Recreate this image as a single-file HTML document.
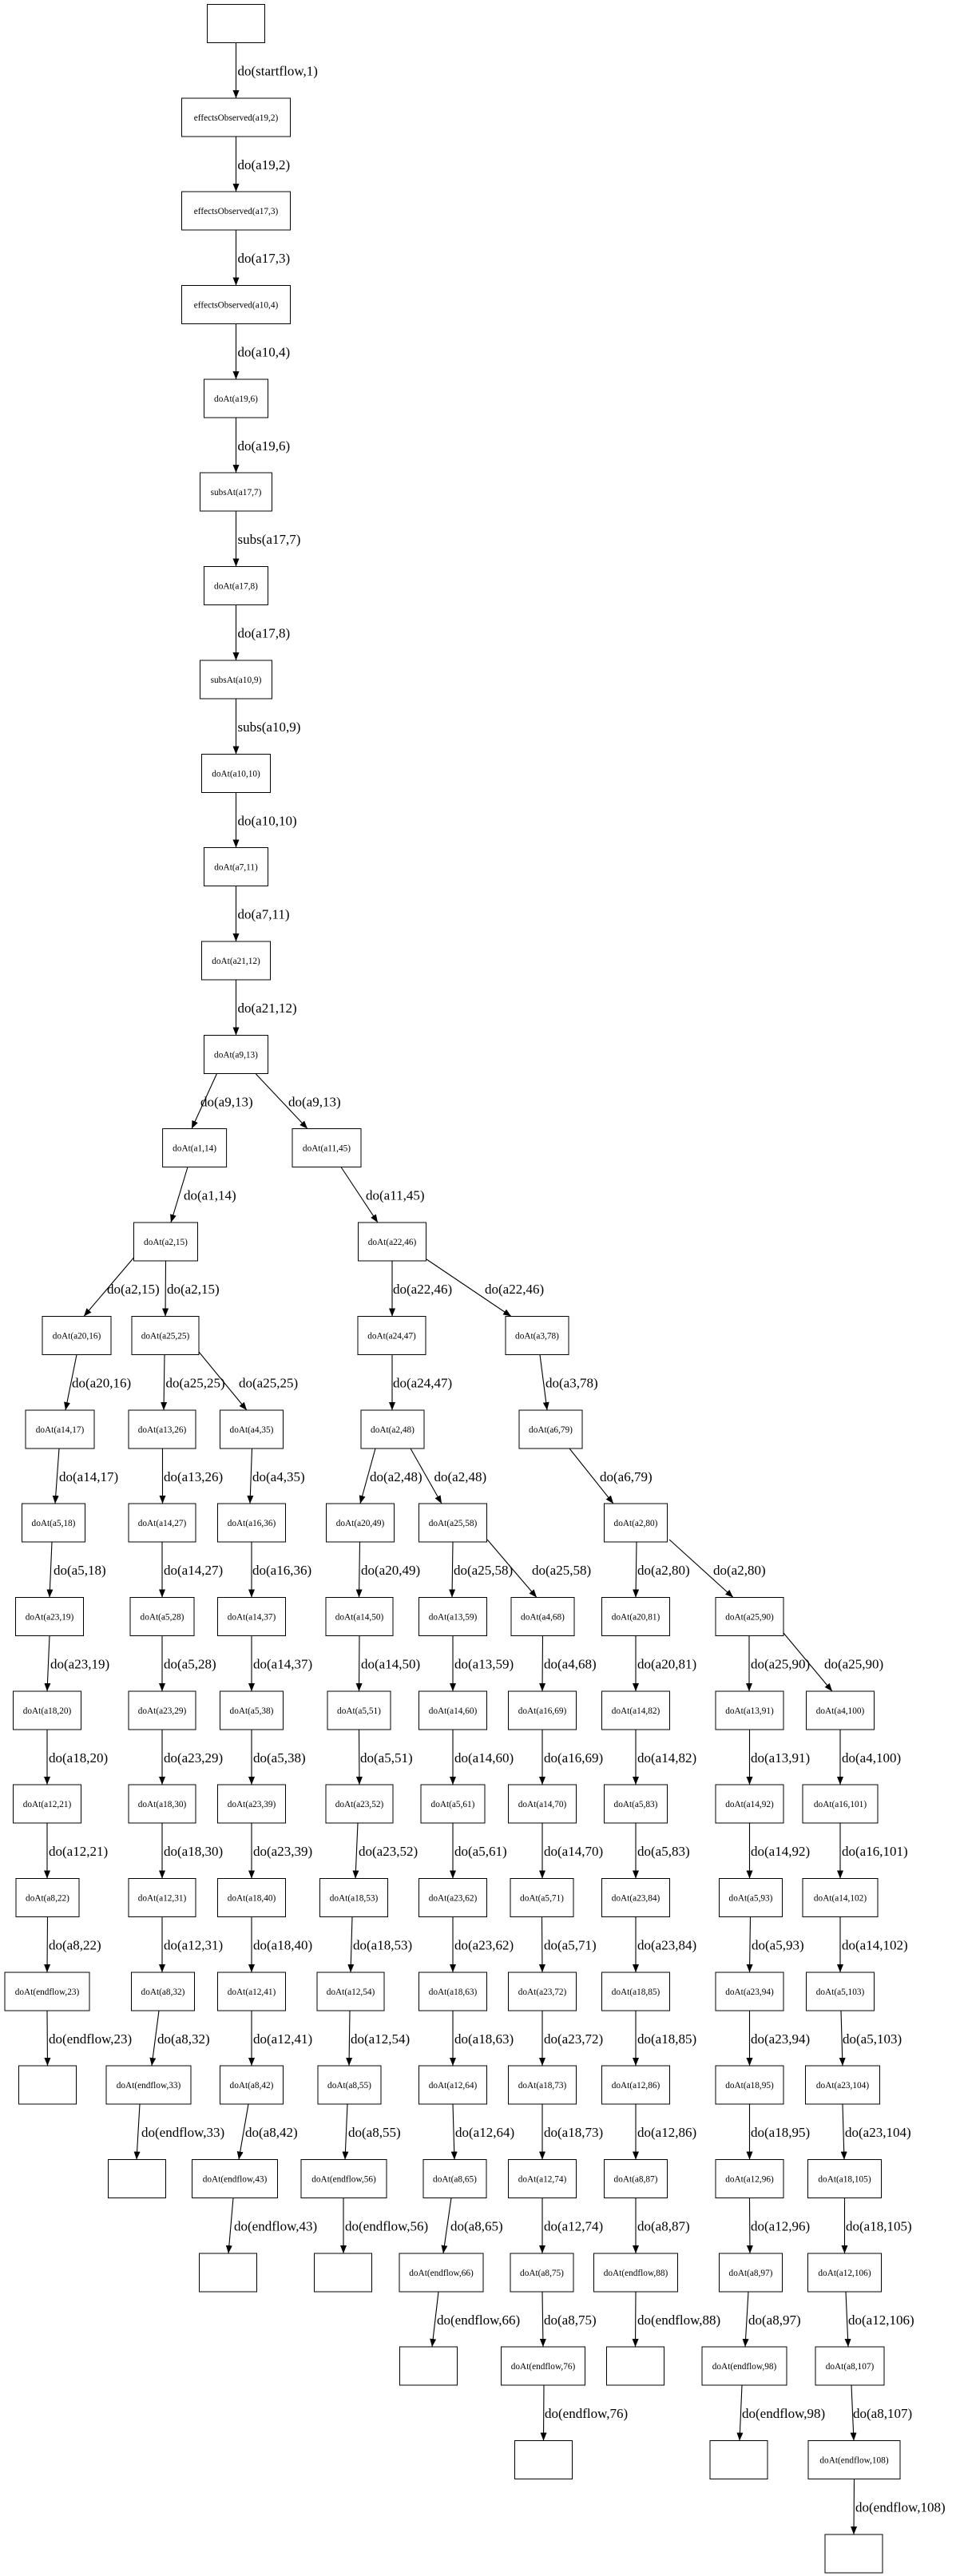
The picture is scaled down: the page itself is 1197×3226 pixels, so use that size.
<!DOCTYPE html>
<html><head><meta charset="utf-8">
<style>
html,body{margin:0;padding:0;background:#fff;}
svg{display:block;}
.n rect{fill:#fff;stroke:#000;stroke-width:1;}
.nt{font-family:"Liberation Serif",serif;font-size:11.3px;text-anchor:middle;fill:#000;}
.el{font-family:"Liberation Serif",serif;font-size:17px;fill:#000;}
.e{stroke:#000;stroke-width:1.1;fill:none;marker-end:url(#ah);}
</style></head><body>
<svg width="1197" height="3226" viewBox="0 0 1197 3226" xmlns="http://www.w3.org/2000/svg">
<defs><marker id="ah" markerUnits="userSpaceOnUse" markerWidth="11" markerHeight="8" refX="10" refY="4" orient="auto"><path d="M0,0 L10,4 L0,8 z" fill="#000"/></marker></defs>
<g class="n">
<rect x="259.5" y="5.5" width="72" height="48"/>
<rect x="227.5" y="123" width="136" height="48"/><text class="nt" x="295.5" y="151">effectsObserved(a19,2)</text>
<rect x="227.5" y="240" width="136" height="48"/><text class="nt" x="295.5" y="268">effectsObserved(a17,3)</text>
<rect x="227.5" y="357.5" width="136" height="48"/><text class="nt" x="295.5" y="385.5">effectsObserved(a10,4)</text>
<rect x="255.5" y="475" width="80" height="48"/><text class="nt" x="295.5" y="503">doAt(a19,6)</text>
<rect x="250.5" y="592" width="90" height="48"/><text class="nt" x="295.5" y="620">subsAt(a17,7)</text>
<rect x="255.5" y="709.5" width="80" height="48"/><text class="nt" x="295.5" y="737.5">doAt(a17,8)</text>
<rect x="250.5" y="827" width="90" height="48"/><text class="nt" x="295.5" y="855">subsAt(a10,9)</text>
<rect x="252.5" y="944.5" width="86" height="48"/><text class="nt" x="295.5" y="972.5">doAt(a10,10)</text>
<rect x="255.5" y="1061.5" width="80" height="48"/><text class="nt" x="295.5" y="1089.5">doAt(a7,11)</text>
<rect x="252.5" y="1179" width="86" height="48"/><text class="nt" x="295.5" y="1207">doAt(a21,12)</text>
<rect x="255.5" y="1296.5" width="80" height="48"/><text class="nt" x="295.5" y="1324.5">doAt(a9,13)</text>

<rect x="203.6" y="1413.5" width="80" height="48"/><text class="nt" x="243.6" y="1441.5">doAt(a1,14)</text>
<rect x="366" y="1413.5" width="86" height="48"/><text class="nt" x="409" y="1441.5">doAt(a11,45)</text>

<rect x="167.5" y="1531" width="80" height="48"/><text class="nt" x="207.5" y="1559">doAt(a2,15)</text>
<rect x="448.5" y="1531" width="85" height="48"/><text class="nt" x="491" y="1559">doAt(a22,46)</text>

<rect x="53" y="1648.5" width="86" height="48"/><text class="nt" x="96" y="1676.5">doAt(a20,16)</text>
<rect x="165" y="1648.5" width="84" height="48"/><text class="nt" x="207" y="1676.5">doAt(a25,25)</text>
<rect x="448" y="1648.5" width="85" height="48"/><text class="nt" x="490.5" y="1676.5">doAt(a24,47)</text>
<rect x="633" y="1648.5" width="79" height="48"/><text class="nt" x="672.5" y="1676.5">doAt(a3,78)</text>

<rect x="32" y="1766" width="86" height="48"/><text class="nt" x="75" y="1794">doAt(a14,17)</text>
<rect x="161" y="1766" width="84" height="48"/><text class="nt" x="203" y="1794">doAt(a13,26)</text>
<rect x="275.5" y="1766" width="79" height="48"/><text class="nt" x="315" y="1794">doAt(a4,35)</text>
<rect x="452" y="1766" width="79" height="48"/><text class="nt" x="491.5" y="1794">doAt(a2,48)</text>
<rect x="650" y="1766" width="79" height="48"/><text class="nt" x="689.5" y="1794">doAt(a6,79)</text>

<rect x="27.5" y="1883" width="79" height="48"/><text class="nt" x="67" y="1911">doAt(a5,18)</text>
<rect x="161" y="1883" width="84" height="48"/><text class="nt" x="203" y="1911">doAt(a14,27)</text>
<rect x="272.5" y="1883" width="85" height="48"/><text class="nt" x="315" y="1911">doAt(a16,36)</text>
<rect x="408.5" y="1883" width="85" height="48"/><text class="nt" x="451" y="1911">doAt(a20,49)</text>
<rect x="524.5" y="1883" width="85" height="48"/><text class="nt" x="567" y="1911">doAt(a25,58)</text>
<rect x="756.5" y="1883" width="79" height="48"/><text class="nt" x="796" y="1911">doAt(a2,80)</text>

<rect x="19.5" y="2000.5" width="85" height="48"/><text class="nt" x="62" y="2028.5">doAt(a23,19)</text>
<rect x="163" y="2000.5" width="80" height="48"/><text class="nt" x="203" y="2028.5">doAt(a5,28)</text>
<rect x="272.5" y="2000.5" width="85" height="48"/><text class="nt" x="315" y="2028.5">doAt(a14,37)</text>
<rect x="408" y="2000.5" width="84" height="48"/><text class="nt" x="450" y="2028.5">doAt(a14,50)</text>
<rect x="524.5" y="2000.5" width="85" height="48"/><text class="nt" x="567" y="2028.5">doAt(a13,59)</text>
<rect x="640" y="2000.5" width="79" height="48"/><text class="nt" x="679.5" y="2028.5">doAt(a4,68)</text>
<rect x="753.5" y="2000.5" width="85" height="48"/><text class="nt" x="796" y="2028.5">doAt(a20,81)</text>
<rect x="896" y="2000.5" width="85" height="48"/><text class="nt" x="938.5" y="2028.5">doAt(a25,90)</text>

<rect x="16.5" y="2118" width="85" height="48"/><text class="nt" x="59" y="2146">doAt(a18,20)</text>
<rect x="161" y="2118" width="84" height="48"/><text class="nt" x="203" y="2146">doAt(a23,29)</text>
<rect x="275.5" y="2118" width="79" height="48"/><text class="nt" x="315" y="2146">doAt(a5,38)</text>
<rect x="410" y="2118" width="79" height="48"/><text class="nt" x="449.5" y="2146">doAt(a5,51)</text>
<rect x="524.5" y="2118" width="85" height="48"/><text class="nt" x="567" y="2146">doAt(a14,60)</text>
<rect x="636.5" y="2118" width="85" height="48"/><text class="nt" x="679" y="2146">doAt(a16,69)</text>
<rect x="753.5" y="2118" width="85" height="48"/><text class="nt" x="796" y="2146">doAt(a14,82)</text>
<rect x="896" y="2118" width="85" height="48"/><text class="nt" x="938.5" y="2146">doAt(a13,91)</text>
<rect x="1009.5" y="2118" width="85" height="48"/><text class="nt" x="1052" y="2146">doAt(a4,100)</text>

<rect x="16.5" y="2235" width="85" height="48"/><text class="nt" x="59" y="2263">doAt(a12,21)</text>
<rect x="161" y="2235" width="84" height="48"/><text class="nt" x="203" y="2263">doAt(a18,30)</text>
<rect x="272.5" y="2235" width="85" height="48"/><text class="nt" x="315" y="2263">doAt(a23,39)</text>
<rect x="408" y="2235" width="84" height="48"/><text class="nt" x="450" y="2263">doAt(a23,52)</text>
<rect x="527" y="2235" width="80" height="48"/><text class="nt" x="567" y="2263">doAt(a5,61)</text>
<rect x="636.5" y="2235" width="85" height="48"/><text class="nt" x="679" y="2263">doAt(a14,70)</text>
<rect x="756.5" y="2235" width="79" height="48"/><text class="nt" x="796" y="2263">doAt(a5,83)</text>
<rect x="896" y="2235" width="85" height="48"/><text class="nt" x="938.5" y="2263">doAt(a14,92)</text>
<rect x="1005" y="2235" width="94" height="48"/><text class="nt" x="1052" y="2263">doAt(a16,101)</text>

<rect x="20" y="2352.5" width="79" height="48"/><text class="nt" x="59.5" y="2380.5">doAt(a8,22)</text>
<rect x="161" y="2352.5" width="84" height="48"/><text class="nt" x="203" y="2380.5">doAt(a12,31)</text>
<rect x="272.5" y="2352.5" width="85" height="48"/><text class="nt" x="315" y="2380.5">doAt(a18,40)</text>
<rect x="400.5" y="2352.5" width="85" height="48"/><text class="nt" x="443" y="2380.5">doAt(a18,53)</text>
<rect x="524.5" y="2352.5" width="85" height="48"/><text class="nt" x="567" y="2380.5">doAt(a23,62)</text>
<rect x="639" y="2352.5" width="79" height="48"/><text class="nt" x="678.5" y="2380.5">doAt(a5,71)</text>
<rect x="753.5" y="2352.5" width="85" height="48"/><text class="nt" x="796" y="2380.5">doAt(a23,84)</text>
<rect x="900.5" y="2352.5" width="79" height="48"/><text class="nt" x="940" y="2380.5">doAt(a5,93)</text>
<rect x="1005" y="2352.5" width="94" height="48"/><text class="nt" x="1052" y="2380.5">doAt(a14,102)</text>

<rect x="6" y="2470" width="106" height="48"/><text class="nt" x="59" y="2498">doAt(endflow,23)</text>
<rect x="164.5" y="2470" width="79" height="48"/><text class="nt" x="204" y="2498">doAt(a8,32)</text>
<rect x="272.5" y="2470" width="85" height="48"/><text class="nt" x="315" y="2498">doAt(a12,41)</text>
<rect x="397" y="2470" width="84" height="48"/><text class="nt" x="439" y="2498">doAt(a12,54)</text>
<rect x="524.5" y="2470" width="85" height="48"/><text class="nt" x="567" y="2498">doAt(a18,63)</text>
<rect x="636.5" y="2470" width="85" height="48"/><text class="nt" x="679" y="2498">doAt(a23,72)</text>
<rect x="753.5" y="2470" width="85" height="48"/><text class="nt" x="796" y="2498">doAt(a18,85)</text>
<rect x="896" y="2470" width="85" height="48"/><text class="nt" x="938.5" y="2498">doAt(a23,94)</text>
<rect x="1009.5" y="2470" width="85" height="48"/><text class="nt" x="1052" y="2498">doAt(a5,103)</text>

<rect x="23.5" y="2587" width="72" height="48"/>
<rect x="133" y="2587" width="106" height="48"/><text class="nt" x="186" y="2615">doAt(endflow,33)</text>
<rect x="275.5" y="2587" width="79" height="48"/><text class="nt" x="315" y="2615">doAt(a8,42)</text>
<rect x="398" y="2587" width="79" height="48"/><text class="nt" x="437.5" y="2615">doAt(a8,55)</text>
<rect x="524.5" y="2587" width="85" height="48"/><text class="nt" x="567" y="2615">doAt(a12,64)</text>
<rect x="636.5" y="2587" width="85" height="48"/><text class="nt" x="679" y="2615">doAt(a18,73)</text>
<rect x="753.5" y="2587" width="85" height="48"/><text class="nt" x="796" y="2615">doAt(a12,86)</text>
<rect x="896" y="2587" width="85" height="48"/><text class="nt" x="938.5" y="2615">doAt(a18,95)</text>
<rect x="1008.5" y="2587" width="93" height="48"/><text class="nt" x="1055" y="2615">doAt(a23,104)</text>

<rect x="135.5" y="2704.5" width="72" height="48"/>
<rect x="240.5" y="2704.5" width="107" height="48"/><text class="nt" x="294" y="2732.5">doAt(endflow,43)</text>
<rect x="377" y="2704.5" width="107" height="48"/><text class="nt" x="430.5" y="2732.5">doAt(endflow,56)</text>
<rect x="530" y="2704.5" width="79" height="48"/><text class="nt" x="569.5" y="2732.5">doAt(a8,65)</text>
<rect x="636.5" y="2704.5" width="85" height="48"/><text class="nt" x="679" y="2732.5">doAt(a12,74)</text>
<rect x="756.5" y="2704.5" width="79" height="48"/><text class="nt" x="796" y="2732.5">doAt(a8,87)</text>
<rect x="896" y="2704.5" width="85" height="48"/><text class="nt" x="938.5" y="2732.5">doAt(a12,96)</text>
<rect x="1011.5" y="2704.5" width="92" height="48"/><text class="nt" x="1057.5" y="2732.5">doAt(a18,105)</text>

<rect x="249.5" y="2822" width="72" height="48"/>
<rect x="393.5" y="2822" width="72" height="48"/>
<rect x="500" y="2822" width="105" height="48"/><text class="nt" x="552.5" y="2850">doAt(endflow,66)</text>
<rect x="639" y="2822" width="79" height="48"/><text class="nt" x="678.5" y="2850">doAt(a8,75)</text>
<rect x="743.5" y="2822" width="105" height="48"/><text class="nt" x="796" y="2850">doAt(endflow,88)</text>
<rect x="900.5" y="2822" width="79" height="48"/><text class="nt" x="940" y="2850">doAt(a8,97)</text>
<rect x="1011.5" y="2822" width="92" height="48"/><text class="nt" x="1057.5" y="2850">doAt(a12,106)</text>

<rect x="500.5" y="2939" width="72" height="48"/>
<rect x="627.5" y="2939" width="105" height="48"/><text class="nt" x="680" y="2967">doAt(endflow,76)</text>
<rect x="759.5" y="2939" width="72" height="48"/>
<rect x="879" y="2939" width="106" height="48"/><text class="nt" x="932" y="2967">doAt(endflow,98)</text>
<rect x="1021" y="2939" width="86" height="48"/><text class="nt" x="1064" y="2967">doAt(a8,107)</text>

<rect x="644.5" y="3056.5" width="72" height="48"/>
<rect x="889" y="3056.5" width="72" height="48"/>
<rect x="1012" y="3056.5" width="115" height="48"/><text class="nt" x="1069.5" y="3084.5">doAt(endflow,108)</text>

<rect x="1033" y="3174" width="72" height="48"/>
</g>

<g>
<path class="e" d="M295.5 53.5L295.5 123"/><text class="el" x="297.5" y="94.5">do(startflow,1)</text>
<path class="e" d="M295.5 171L295.5 240"/><text class="el" x="297.5" y="212">do(a19,2)</text>
<path class="e" d="M295.5 288L295.5 357.5"/><text class="el" x="297.5" y="329">do(a17,3)</text>
<path class="e" d="M295.5 405.5L295.5 475"/><text class="el" x="297.5" y="446.5">do(a10,4)</text>
<path class="e" d="M295.5 523L295.5 592"/><text class="el" x="297.5" y="564">do(a19,6)</text>
<path class="e" d="M295.5 640L295.5 709.5"/><text class="el" x="297.5" y="681">subs(a17,7)</text>
<path class="e" d="M295.5 757.5L295.5 827"/><text class="el" x="297.5" y="798.5">do(a17,8)</text>
<path class="e" d="M295.5 875L295.5 944.5"/><text class="el" x="297.5" y="916">subs(a10,9)</text>
<path class="e" d="M295.5 992.5L295.5 1061.5"/><text class="el" x="297.5" y="1033.5">do(a10,10)</text>
<path class="e" d="M295.5 1109.5L295.5 1179"/><text class="el" x="297.5" y="1150.5">do(a7,11)</text>
<path class="e" d="M295.5 1227L295.5 1296.5"/><text class="el" x="297.5" y="1268">do(a21,12)</text>

<path class="e" d="M271.5 1344.5L240 1413.5"/><text class="el" x="251" y="1385.5">do(a9,13)</text>
<path class="e" d="M320 1344.5L385 1413.5"/><text class="el" x="361" y="1385.5">do(a9,13)</text>
<path class="e" d="M235 1461.5L214 1531"/><text class="el" x="230" y="1502.5">do(a1,14)</text>
<path class="e" d="M427 1461.5L473 1531"/><text class="el" x="458" y="1502.5">do(a11,45)</text>

<path class="e" d="M167.5 1575L105 1648.5"/><text class="el" x="134" y="1620">do(a2,15)</text>
<path class="e" d="M207.5 1579L207 1648.5"/><text class="el" x="209" y="1620">do(a2,15)</text>
<path class="e" d="M491 1579L491 1648.5"/><text class="el" x="492" y="1620">do(a22,46)</text>
<path class="e" d="M534 1577L640 1648.5"/><text class="el" x="607" y="1620">do(a22,46)</text>

<path class="e" d="M96 1696.5L82 1766"/><text class="el" x="90" y="1737.5">do(a20,16)</text>
<path class="e" d="M206 1696.5L205 1766"/><text class="el" x="207.5" y="1737.5">do(a25,25)</text>
<path class="e" d="M249 1693L309 1766"/><text class="el" x="299" y="1737.5">do(a25,25)</text>
<path class="e" d="M491 1696.5L491 1766"/><text class="el" x="492" y="1737.5">do(a24,47)</text>
<path class="e" d="M676 1696.5L685 1766"/><text class="el" x="683" y="1737.5">do(a3,78)</text>

<path class="e" d="M74 1814L69 1883"/><text class="el" x="74" y="1855">do(a14,17)</text>
<path class="e" d="M203.5 1814L203.5 1883"/><text class="el" x="205" y="1855">do(a13,26)</text>
<path class="e" d="M315.5 1814L313 1883"/><text class="el" x="316" y="1855">do(a4,35)</text>
<path class="e" d="M470 1814L451 1883"/><text class="el" x="463" y="1855">do(a2,48)</text>
<path class="e" d="M514 1814L553 1883"/><text class="el" x="543.5" y="1855">do(a2,48)</text>
<path class="e" d="M713 1814L768 1883"/><text class="el" x="751" y="1855">do(a6,79)</text>

<path class="e" d="M65 1931L62 2000.5"/><text class="el" x="67" y="1972">do(a5,18)</text>
<path class="e" d="M203 1931L203 2000.5"/><text class="el" x="205" y="1972">do(a14,27)</text>
<path class="e" d="M315 1931L315 2000.5"/><text class="el" x="316" y="1972">do(a16,36)</text>
<path class="e" d="M450.5 1931L449.5 2000.5"/><text class="el" x="452" y="1972">do(a20,49)</text>
<path class="e" d="M567 1931L566 2000.5"/><text class="el" x="568" y="1972">do(a25,58)</text>
<path class="e" d="M610 1928L672 2000.5"/><text class="el" x="666" y="1972">do(a25,58)</text>
<path class="e" d="M797 1931L796 2000.5"/><text class="el" x="798" y="1972">do(a2,80)</text>
<path class="e" d="M838 1928L918 2000.5"/><text class="el" x="893" y="1972">do(a2,80)</text>

<path class="e" d="M62 2048.5L59 2118"/><text class="el" x="63" y="2089.5">do(a23,19)</text>
<path class="e" d="M203 2048.5L203 2118"/><text class="el" x="205" y="2089.5">do(a5,28)</text>
<path class="e" d="M315 2048.5L315 2118"/><text class="el" x="317" y="2089.5">do(a14,37)</text>
<path class="e" d="M450 2048.5L449.5 2118"/><text class="el" x="452" y="2089.5">do(a14,50)</text>
<path class="e" d="M567 2048.5L567 2118"/><text class="el" x="569" y="2089.5">do(a13,59)</text>
<path class="e" d="M679.5 2048.5L679 2118"/><text class="el" x="681" y="2089.5">do(a4,68)</text>
<path class="e" d="M796 2048.5L796 2118"/><text class="el" x="798" y="2089.5">do(a20,81)</text>
<path class="e" d="M938 2048.5L938 2118"/><text class="el" x="940" y="2089.5">do(a25,90)</text>
<path class="e" d="M981 2045L1042 2118"/><text class="el" x="1032" y="2089.5">do(a25,90)</text>

<path class="e" d="M59 2166L59 2235"/><text class="el" x="61" y="2207">do(a18,20)</text>
<path class="e" d="M203 2166L203 2235"/><text class="el" x="205" y="2207">do(a23,29)</text>
<path class="e" d="M315 2166L315 2235"/><text class="el" x="317" y="2207">do(a5,38)</text>
<path class="e" d="M449.5 2166L450 2235"/><text class="el" x="451" y="2207">do(a5,51)</text>
<path class="e" d="M567 2166L567 2235"/><text class="el" x="569" y="2207">do(a14,60)</text>
<path class="e" d="M679 2166L679 2235"/><text class="el" x="681" y="2207">do(a16,69)</text>
<path class="e" d="M796 2166L796 2235"/><text class="el" x="798" y="2207">do(a14,82)</text>
<path class="e" d="M938.5 2166L938.5 2235"/><text class="el" x="940" y="2207">do(a13,91)</text>
<path class="e" d="M1052 2166L1052 2235"/><text class="el" x="1054" y="2207">do(a4,100)</text>

<path class="e" d="M59 2283L59 2352.5"/><text class="el" x="61" y="2324">do(a12,21)</text>
<path class="e" d="M203 2283L203 2352.5"/><text class="el" x="205" y="2324">do(a18,30)</text>
<path class="e" d="M315 2283L315 2352.5"/><text class="el" x="317" y="2324">do(a23,39)</text>
<path class="e" d="M448 2283L445 2352.5"/><text class="el" x="449" y="2324">do(a23,52)</text>
<path class="e" d="M567 2283L567 2352.5"/><text class="el" x="569" y="2324">do(a5,61)</text>
<path class="e" d="M679 2283L679 2352.5"/><text class="el" x="681" y="2324">do(a14,70)</text>
<path class="e" d="M796 2283L796 2352.5"/><text class="el" x="798" y="2324">do(a5,83)</text>
<path class="e" d="M938.5 2283L938.5 2352.5"/><text class="el" x="940" y="2324">do(a14,92)</text>
<path class="e" d="M1052 2283L1052 2352.5"/><text class="el" x="1054" y="2324">do(a16,101)</text>

<path class="e" d="M59.5 2400.5L59 2470"/><text class="el" x="61" y="2441.5">do(a8,22)</text>
<path class="e" d="M203 2400.5L203 2470"/><text class="el" x="205" y="2441.5">do(a12,31)</text>
<path class="e" d="M315 2400.5L315 2470"/><text class="el" x="317" y="2441.5">do(a18,40)</text>
<path class="e" d="M441 2400.5L439 2470"/><text class="el" x="442" y="2441.5">do(a18,53)</text>
<path class="e" d="M567 2400.5L567 2470"/><text class="el" x="569" y="2441.5">do(a23,62)</text>
<path class="e" d="M678.5 2400.5L679 2470"/><text class="el" x="681" y="2441.5">do(a5,71)</text>
<path class="e" d="M796 2400.5L796 2470"/><text class="el" x="798" y="2441.5">do(a23,84)</text>
<path class="e" d="M939.5 2400.5L938.5 2470"/><text class="el" x="941" y="2441.5">do(a5,93)</text>
<path class="e" d="M1052 2400.5L1052 2470"/><text class="el" x="1054" y="2441.5">do(a14,102)</text>

<path class="e" d="M59 2518L59.5 2587"/><text class="el" x="61" y="2559">do(endflow,23)</text>
<path class="e" d="M199 2518L190 2587"/><text class="el" x="197" y="2559">do(a8,32)</text>
<path class="e" d="M315 2518L315 2587"/><text class="el" x="317" y="2559">do(a12,41)</text>
<path class="e" d="M438 2518L437 2587"/><text class="el" x="439" y="2559">do(a12,54)</text>
<path class="e" d="M567 2518L567 2587"/><text class="el" x="569" y="2559">do(a18,63)</text>
<path class="e" d="M679 2518L679 2587"/><text class="el" x="681" y="2559">do(a23,72)</text>
<path class="e" d="M796 2518L796 2587"/><text class="el" x="798" y="2559">do(a18,85)</text>
<path class="e" d="M938.5 2518L938.5 2587"/><text class="el" x="940" y="2559">do(a23,94)</text>
<path class="e" d="M1053 2518L1055 2587"/><text class="el" x="1055" y="2559">do(a5,103)</text>

<path class="e" d="M175 2635L171 2704.5"/><text class="el" x="177" y="2676">do(endflow,33)</text>
<path class="e" d="M311 2635L299 2704.5"/><text class="el" x="307" y="2676">do(a8,42)</text>
<path class="e" d="M435 2635L432 2704.5"/><text class="el" x="436" y="2676">do(a8,55)</text>
<path class="e" d="M567 2635L569 2704.5"/><text class="el" x="570" y="2676">do(a12,64)</text>
<path class="e" d="M679 2635L679 2704.5"/><text class="el" x="681" y="2676">do(a18,73)</text>
<path class="e" d="M796 2635L796 2704.5"/><text class="el" x="798" y="2676">do(a12,86)</text>
<path class="e" d="M938.5 2635L938.5 2704.5"/><text class="el" x="940" y="2676">do(a18,95)</text>
<path class="e" d="M1055 2635L1057 2704.5"/><text class="el" x="1058" y="2676">do(a23,104)</text>

<path class="e" d="M292 2752.5L286 2822"/><text class="el" x="293" y="2793.5">do(endflow,43)</text>
<path class="e" d="M430 2752.5L430 2822"/><text class="el" x="432" y="2793.5">do(endflow,56)</text>
<path class="e" d="M565 2752.5L555 2822"/><text class="el" x="564" y="2793.5">do(a8,65)</text>
<path class="e" d="M679 2752.5L679 2822"/><text class="el" x="681" y="2793.5">do(a12,74)</text>
<path class="e" d="M796 2752.5L796 2822"/><text class="el" x="798" y="2793.5">do(a8,87)</text>
<path class="e" d="M938.5 2752.5L939 2822"/><text class="el" x="940" y="2793.5">do(a12,96)</text>
<path class="e" d="M1057.5 2752.5L1057.5 2822"/><text class="el" x="1059" y="2793.5">do(a18,105)</text>

<path class="e" d="M549 2870L541 2939"/><text class="el" x="547" y="2911">do(endflow,66)</text>
<path class="e" d="M679 2870L680 2939"/><text class="el" x="681" y="2911">do(a8,75)</text>
<path class="e" d="M796 2870L795.5 2939"/><text class="el" x="798" y="2911">do(endflow,88)</text>
<path class="e" d="M937 2870L933 2939"/><text class="el" x="937" y="2911">do(a8,97)</text>
<path class="e" d="M1059 2870L1062 2939"/><text class="el" x="1062" y="2911">do(a12,106)</text>

<path class="e" d="M681 2987L680.5 3056.5"/><text class="el" x="682" y="3028">do(endflow,76)</text>
<path class="e" d="M929 2987L926 3056.5"/><text class="el" x="929" y="3028">do(endflow,98)</text>
<path class="e" d="M1066 2987L1069 3056.5"/><text class="el" x="1068" y="3028">do(a8,107)</text>

<path class="e" d="M1069.5 3104.5L1069 3174"/><text class="el" x="1071" y="3145.5">do(endflow,108)</text>
</g>
</svg>
</body></html>
